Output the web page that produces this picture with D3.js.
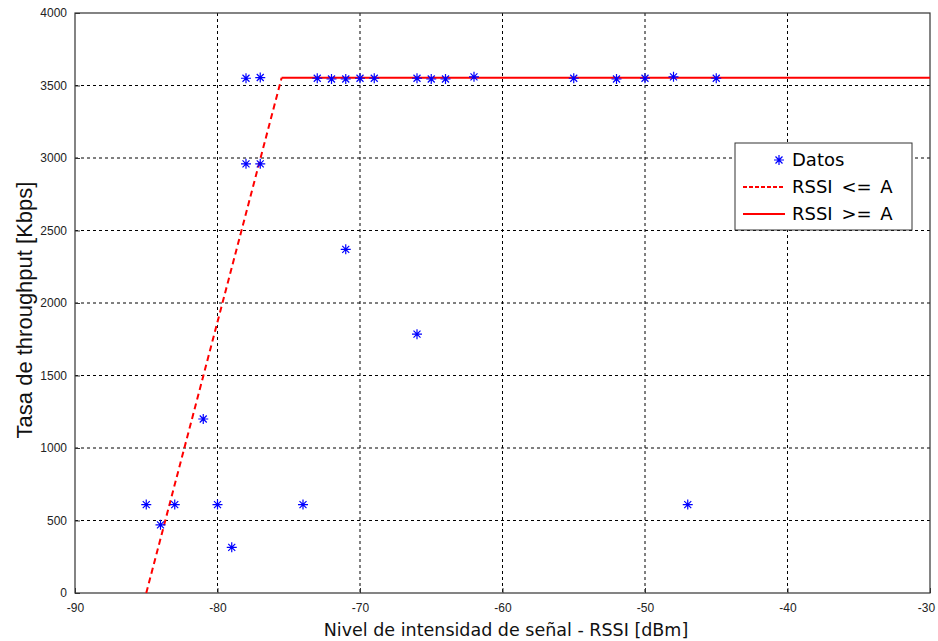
<!DOCTYPE html>
<html lang="es">
<head>
<meta charset="UTF-8">
<title>Throughput vs RSSI</title>
<script src="https://d3js.org/d3.v7.min.js"></script>
<style>
    body { margin: 0; background: #fff; }
    .tick text { font-family: 'Liberation Sans', Arial, sans-serif; font-size: 12px; fill: #222; }
    .grid line { stroke: #000; stroke-width: 1; stroke-dasharray: 3 3; }
    .xtitle { font-family: 'DejaVu Sans', Verdana, sans-serif; font-size: 17.5px; fill: #111; }
    .ytitle { font-family: 'Liberation Sans', Arial, sans-serif; font-size: 22px; fill: #111; }
    .legend text { font-family: 'DejaVu Sans', Verdana, sans-serif; font-size: 18px; fill: #000; word-spacing: 3px; }
</style>
</head>
<body>
<svg id="chart" width="938" height="641"></svg>
<script>
// measured points (RSSI dBm, throughput Kbps)
const rssi = [-85, -84, -83, -81, -80, -79, -74, -47,
              -78, -77, -78, -77, -71, -66,
              -73, -72, -71, -70, -69, -66, -65, -64, -62, -55, -52, -50, -48, -45];
const throughput = [610, 470, 610, 1200, 610, 315, 610, 610,
                    3550, 3555, 2960, 2960, 2370, 1785,
                    3550, 3545, 3545, 3550, 3550, 3550, 3545, 3545, 3560, 3550, 3545, 3550, 3560, 3550];

// fitted model: ramp up to A, then flat
const rampX = [-85, -75.5];
const rampY = [0, 3553];
const flatX = [-75.5, -30];
const flatY = [3553, 3553];

const xTicks = [-90, -80, -70, -60, -50, -40, -30];
const yTicks = [0, 500, 1000, 1500, 2000, 2500, 3000, 3500, 4000];

const margin = { top: 13, right: 8, bottom: 48, left: 75 };
const width = 938 - margin.left - margin.right;
const height = 641 - margin.top - margin.bottom;

const x = d3.scaleLinear().domain([-90, -30]).range([0, width]);
const y = d3.scaleLinear().domain([0, 4000]).range([height, 0]);

const fmt = d => String(d);

const svg = d3.select("#chart");
const g = svg.append("g").attr("transform", `translate(${margin.left},${margin.top})`);

// grid
const grid = g.append("g").attr("class", "grid");
grid.selectAll(".gx").data(xTicks.slice(1, -1)).enter().append("line")
    .attr("x1", d => x(d)).attr("x2", d => x(d)).attr("y1", 0).attr("y2", height);
grid.selectAll(".gy").data(yTicks.slice(1, -1)).enter().append("line")
    .attr("y1", d => y(d)).attr("y2", d => y(d)).attr("x1", 0).attr("x2", width);

// axes (ticks pointing inward, like matlab)
const xAxis = g.append("g").attr("transform", `translate(0,${height})`)
    .call(d3.axisBottom(x).tickValues(xTicks).tickFormat(fmt).tickSizeInner(-5).tickSizeOuter(0).tickPadding(10));
const yAxis = g.append("g")
    .call(d3.axisLeft(y).tickValues(yTicks).tickFormat(fmt).tickSizeInner(-5).tickSizeOuter(0).tickPadding(8));
[xAxis, yAxis].forEach(a => {
    a.select(".domain").remove();
    a.selectAll(".tick line").attr("stroke", "#333");
});
// keep last x label inside the window
xAxis.selectAll(".tick text").filter(d => d === -30).attr("dx", -4);

g.append("rect").attr("width", width).attr("height", height)
    .attr("fill", "none").attr("stroke", "#333").attr("stroke-width", 1.2);

// fitted lines
const line = d3.line().x(d => x(d[0])).y(d => y(d[1]));
g.append("path").datum(d3.zip(rampX, rampY)).attr("d", line)
    .attr("fill", "none").attr("stroke", "#ff0000").attr("stroke-width", 2).attr("stroke-dasharray", "6 4");
g.append("path").datum(d3.zip(flatX, flatY)).attr("d", line)
    .attr("fill", "none").attr("stroke", "#ff0000").attr("stroke-width", 2);

// asterisk markers
function drawStar(sel) {
    sel.append("path").attr("d", "M-5,0H5M0,-5V5M-3.5,-3.5L3.5,3.5M-3.5,3.5L3.5,-3.5")
        .attr("stroke", "#0000ff").attr("stroke-width", 1.2).attr("fill", "none");
}
g.selectAll(".pt").data(d3.zip(rssi, throughput)).enter().append("g")
    .attr("transform", d => `translate(${x(d[0])},${y(d[1])})`)
    .call(drawStar);

// axis titles
svg.append("text").attr("class", "xtitle")
    .attr("x", 506).attr("y", 636).attr("text-anchor", "middle")
    .text("Nivel de intensidad de señal - RSSI [dBm]");
svg.append("text").attr("class", "ytitle")
    .attr("transform", `translate(32,310) rotate(-90)`)
    .attr("text-anchor", "middle")
    .text("Tasa de throughput [Kbps]");

// legend
const lg = svg.append("g").attr("class", "legend").attr("transform", "translate(735,143)");
lg.append("rect").attr("width", 177).attr("height", 87)
    .attr("fill", "#fff").attr("stroke", "#333").attr("stroke-width", 1);
const legendItems = ["Datos", "RSSI <= A", "RSSI >= A"];
legendItems.forEach((label, i) => {
    const row = lg.append("g").attr("transform", `translate(0,${17 + i * 27})`);
    if (i === 0) {
        row.append("g").attr("transform", "translate(44,0)").call(drawStar);
    } else {
        row.append("line").attr("x1", 8).attr("x2", 50).attr("y1", 0).attr("y2", 0)
            .attr("stroke", "#ff0000").attr("stroke-width", 2)
            .attr("stroke-dasharray", i === 1 ? "4 2" : null);
    }
    row.append("text").attr("x", 57).attr("y", 6).text(label);
});
</script>
</body>
</html>
